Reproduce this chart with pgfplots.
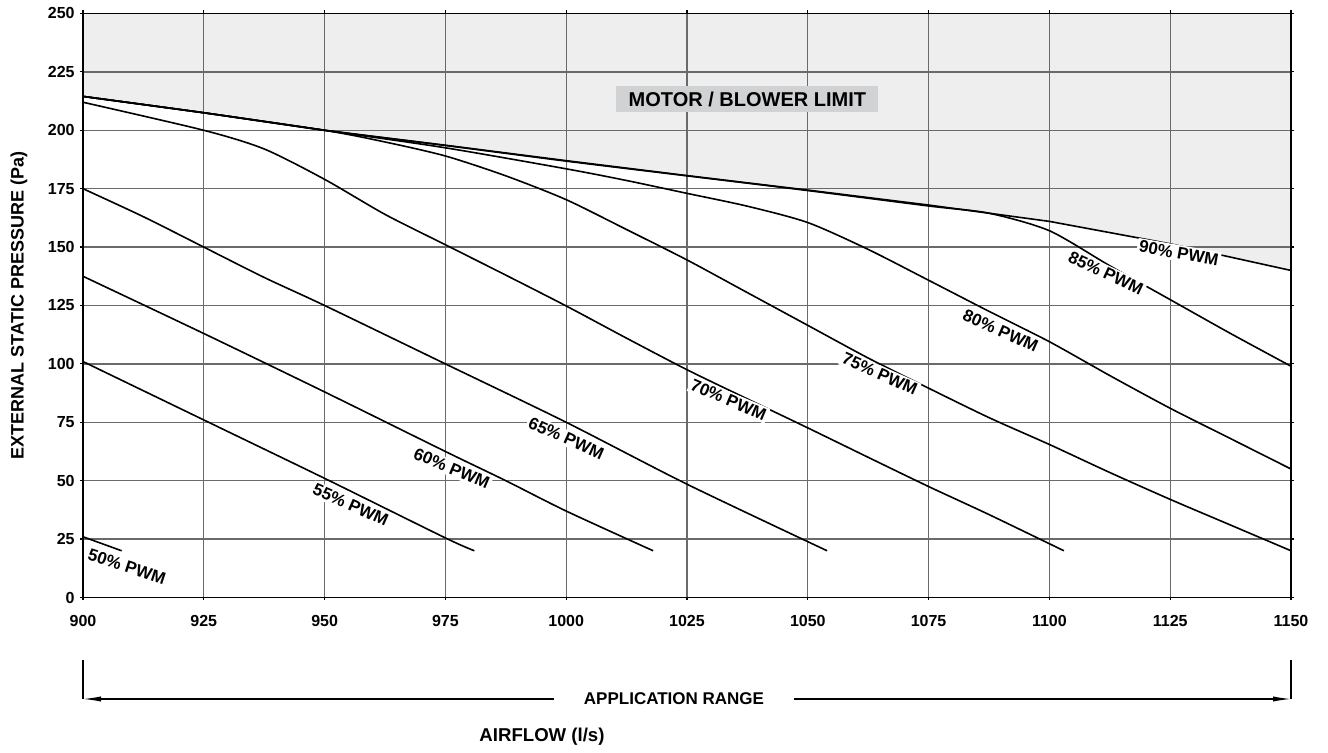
\documentclass[border=0pt]{standalone}
\usepackage{pgfplots}
\pgfplotsset{compat=1.18}
\usepackage{fontspec}
\setmainfont{Liberation Sans}
\usetikzlibrary{arrows.meta}
\definecolor{limitgray}{HTML}{EEEEEE}
\definecolor{boxgray}{HTML}{D1D2D4}
\definecolor{gridgray}{HTML}{6A6A6A}
\tikzset{lbl/.style={fill=white, inner sep=1pt, font=\bfseries\fontsize{8.5}{10}\selectfont}}
\pgfplotsset{crv/.style={black, line width=0.8pt, no markers, smooth, tension=0.45},
  crvs/.style={black, line width=0.8pt, no markers}}

\begin{document}
\begin{tikzpicture}
\begin{axis}[
  at={(0pt,0pt)}, anchor=south west,
  scale only axis, width=604pt, height=292pt,
  xmin=900, xmax=1150, ymin=0, ymax=250,
  xtick={900,925,...,1150}, ytick={0,25,...,250},
  grid=major,
  grid style={draw=gridgray, line width=0.65pt},
  axis line style={line width=0.9pt},
  tick align=outside, major tick length=1.5pt,
  tick style={black, line width=0.6pt},
  set layers,
  /pgf/number format/assume math mode=true,
  /pgf/number format/1000 sep={},
  ticklabel style={font=\bfseries\fontsize{8}{9.6}\selectfont},
  xticklabel style={anchor=center, yshift=-10.25pt},
  yticklabel style={anchor=east, inner sep=0pt, xshift=-2.5pt},
  ylabel={EXTERNAL STATIC PRESSURE (Pa)},
  ylabel style={at={(axis description cs:-0.053,0.5)}, anchor=center, font=\bfseries\fontsize{9}{10.8}\selectfont},
]
% motor / blower limit region
\addplot[draw=none, fill=limitgray, on layer=axis background] coordinates {
 (900,250) (900,214.5) (925,207.5) (950,200) (975,193.6) (1000,187) (1025,180.6)
 (1050,174.4) (1075,168) (1100,161) (1125,151.4) (1150,140) (1150,250)};
% 90%
\addplot[crvs] coordinates {(900,214.5) (925,207.5) (950,200) (975,193.6) (1000,187) (1025,180.6)
 (1050,174.4) (1075,168) (1100,161) (1125,151.4) (1150,140)};
% 85%
\addplot[crv] coordinates {(900,214.5) (925,207.5) (950,200) (975,193.5) (1000,186.8) (1025,180.5)
 (1050,174.2) (1075,167.6) (1087.5,164.5) (1100,157) (1112.5,142) (1125,127.5) (1137.5,113) (1150,99)};
% 80%
\addplot[crv] coordinates {(900,214.5) (925,207.5) (950,200) (975,192.5) (1000,183.5) (1012.5,178.5)
 (1025,173) (1037.5,167.5) (1050,160.5) (1062.5,149) (1075,135.8) (1087.5,122.5) (1100,109.5)
 (1112.5,95) (1125,81) (1137.5,68) (1150,55)};
% 75%
\addplot[crv] coordinates {(900,214.5) (925,207.5) (950,200) (962.5,195) (975,189) (987.5,180.5)
 (1000,170.3) (1012.5,157.5) (1025,144.5) (1037.5,130.5) (1050,116.5) (1062.5,102.5) (1075,89.6)
 (1087.5,77) (1100,65.5) (1112.5,53.5) (1125,42) (1137.5,31) (1150,20)};
% 70%
\addplot[crv] coordinates {(900,212) (925,200) (937.5,192) (950,179) (962.5,164) (975,151)
 (987.5,138) (1000,124.8) (1012.5,111) (1025,97.5) (1037.5,85) (1050,72.6) (1062.5,60)
 (1075,47.5) (1087.5,35.5) (1103,20)};
% 65%
\addplot[crv] coordinates {(900,175) (912.5,163) (925,150) (937.5,137) (950,125) (975,100)
 (1000,75) (1025,48.5) (1054,20)};
% 60%
\addplot[crv] coordinates {(900,137.5) (925,113) (950,88) (975,62.5) (987.5,50) (1000,37) (1018,20)};
% 55%
\addplot[crv] coordinates {(900,101) (925,76) (950,51) (975,25.5) (981,20)};
% 50%
\addplot[crvs] coordinates {(900,26) (908,20)};

\node[lbl, rotate=-10] at (axis cs:1126.8,147.4) {90\% PWM};
\node[lbl, rotate=-25] at (axis cs:1111.7,138.8) {85\% PWM};
\node[lbl, rotate=-24] at (axis cs:1089.9,114.2) {80\% PWM};
\node[lbl, rotate=-24] at (axis cs:1064.9,95.7) {75\% PWM};
\node[lbl, rotate=-23] at (axis cs:1033.6,84.6) {70\% PWM};
\node[lbl, rotate=-24] at (axis cs:1000,68.2) {65\% PWM};
\node[lbl, rotate=-23] at (axis cs:976.3,55.3) {60\% PWM};
\node[lbl, rotate=-24] at (axis cs:955.4,39.6) {55\% PWM};
\node[lbl, rotate=-18] at (axis cs:909.1,13.2) {50\% PWM};
\node[fill=boxgray, minimum width=131pt, minimum height=13pt, inner sep=0pt,
  font=\bfseries\fontsize{10}{12}\selectfont] at (axis cs:1037.5,213.4) {MOTOR / BLOWER LIMIT};
\end{axis}
% application range
\draw[line width=0.6pt] (0pt,-31.25pt) -- (0pt,-50.75pt);
\draw[line width=0.6pt] (604pt,-31.25pt) -- (604pt,-50.75pt);
\draw[line width=0.6pt, {Latex[length=9pt,width=2.6pt]}-{Latex[length=9pt,width=2.6pt]}] (0pt,-50.75pt) -- (604pt,-50.75pt);
\node[fill=white, inner xsep=15pt, inner ysep=1pt, font=\bfseries\fontsize{8.5}{10}\selectfont] at (295.5pt,-50.75pt) {APPLICATION RANGE};
\node[font=\bfseries\fontsize{9.3}{11}\selectfont] at (229.5pt,-69.75pt) {AIRFLOW (l/s)};
\path (-41.5pt,-75.25pt) rectangle (622.5pt,298.75pt);
\end{tikzpicture}
\end{document}
